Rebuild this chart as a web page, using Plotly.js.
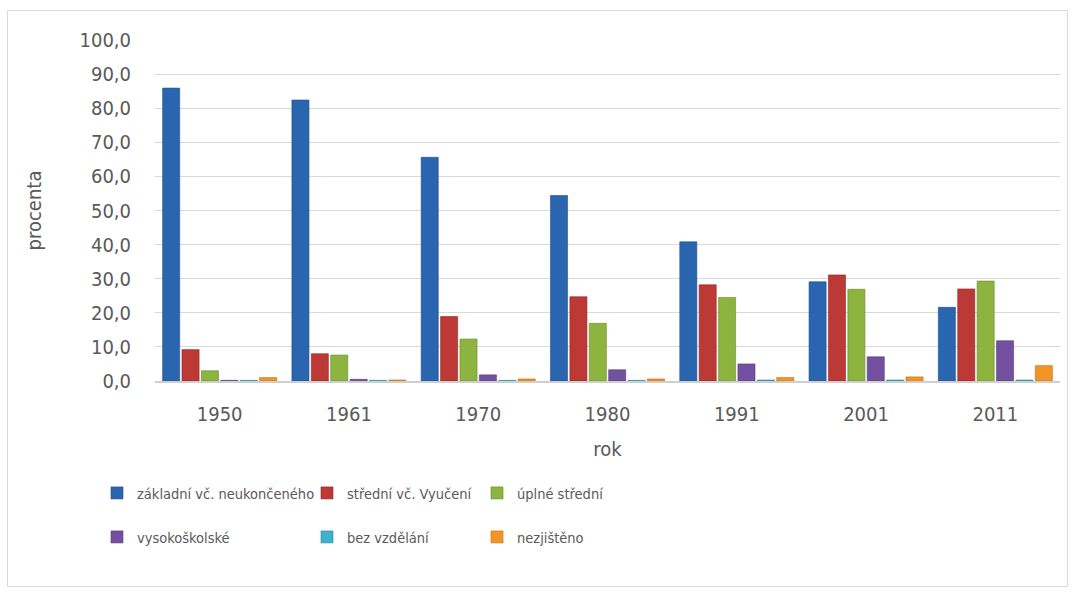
<!DOCTYPE html>
<html>
<head>
<meta charset="utf-8">
<script src="https://cdn.plot.ly/plotly-3.0.1.min.js"></script>
<style>html,body{margin:0;padding:0;background:#fff;}#chart{width:1075px;height:592px;}</style>
</head>
<body>
<div id="chart"></div>
<script>
const years = ["1950", "1961", "1970", "1980", "1991", "2001", "2011"];
const seriesNames = ["základní vč. neukončeného", "střední vč. Vyučení", "úplné střední", "vysokoškolské", "bez vzdělání", "nezjištěno"];
const zakladni = [85.9, 82.4, 65.6, 54.4, 40.8, 29.1, 21.6];
const stredni = [9.2, 8.0, 18.9, 24.7, 28.2, 31.1, 27.0];
const uplneStredni = [3.0, 7.6, 12.3, 16.9, 24.5, 26.9, 29.3];
const vysokoskolske = [0.2, 0.5, 1.8, 3.3, 5.0, 7.1, 11.8];
const bezVzdelani = [0.2, 0.2, 0.2, 0.2, 0.3, 0.3, 0.3];
const nezjisteno = [1.0, 0.3, 0.6, 0.6, 1.0, 1.2, 4.5];
const yTicks = [0, 10, 20, 30, 40, 50, 60, 70, 80, 90, 100];
const yTickLabels = ["0,0", "10,0", "20,0", "30,0", "40,0", "50,0", "60,0", "70,0", "80,0", "90,0", "100,0"];

const values = [zakladni, stredni, uplneStredni, vysokoskolske, bezVzdelani, nezjisteno];
const colors = ["#2A65B0", "#BD3935", "#8DB43F", "#7450A1", "#3DB2CB", "#F39426"];
const lineColors = ["#1F4E8A", "#8E2624", "#66872A", "#553A7A", "#2C8A9E", "#C06E12"];
const FONT = "'DejaVu Sans Condensed', 'DejaVu Sans', sans-serif";
const TXT = "#595959";
const legendIds = ["legend", "legend2", "legend3", "legend4", "legend5", "legend6"];

const traces = values.map((v, i) => ({
  type: "bar",
  name: seriesNames[i],
  x: years,
  y: v,
  marker: {color: colors[i], line: {color: lineColors[i], width: 0.6}},
  legend: legendIds[i],
  hoverinfo: "x+y+name"
}));

const W = 905, H = 341;
function px(x) { return (x - 155) / W; }
function py(y) { return (381 - y) / H; }

function mkLegend(textX, rowY) {
  return {
    orientation: "h",
    xanchor: "left",
    yanchor: "middle",
    x: px(textX - 40),
    y: py(rowY),
    font: {family: FONT, size: 14.5, color: TXT},
    bgcolor: "rgba(0,0,0,0)",
    itemclick: false,
    itemdoubleclick: false
  };
}

const colX = [137, 347, 517];
const rowY = [493, 537];

const layout = {
  width: 1075,
  height: 592,
  margin: {l: 155, r: 15, t: 40, b: 211},
  paper_bgcolor: "#ffffff",
  plot_bgcolor: "#ffffff",
  font: {family: FONT, size: 17, color: TXT},
  barmode: "group",
  bargap: 0.1,
  bargroupgap: 0.12,
  showlegend: true,
  xaxis: {
    type: "category",
    showgrid: false,
    showline: true,
    linecolor: "#CFCFCF",
    linewidth: 2,
    ticks: "",
    ticklabelstandoff: 14,
    tickfont: {family: FONT, size: 20, color: TXT},
    title: {text: "rok", font: {family: FONT, size: 20, color: TXT}, standoff: 17},
    automargin: false
  },
  yaxis: {
    range: [0, 100],
    tickvals: yTicks,
    ticktext: yTickLabels,
    showgrid: true,
    gridcolor: "#D9D9D9",
    gridwidth: 1,
    zeroline: false,
    showline: false,
    ticks: "",
    ticklabelstandoff: 23,
    tickfont: {family: FONT, size: 20, color: TXT},
    title: {text: "procenta", font: {family: FONT, size: 20, color: TXT}, standoff: 32},
    automargin: false,
    fixedrange: true
  },
  legend: mkLegend(colX[0], rowY[0]),
  legend2: mkLegend(colX[1], rowY[0]),
  legend3: mkLegend(colX[2], rowY[0]),
  legend4: mkLegend(colX[0], rowY[1]),
  legend5: mkLegend(colX[1], rowY[1]),
  legend6: mkLegend(colX[2], rowY[1]),
  shapes: [{
    type: "rect", xref: "paper", yref: "paper",
    x0: px(7.5), x1: px(1067.5), y0: py(586.5), y1: py(10.5),
    line: {color: "#D9D9D9", width: 1}, fillcolor: "rgba(0,0,0,0)", layer: "below"
  }]
};

Plotly.newPlot("chart", traces, layout, {staticPlot: true, displayModeBar: false});
</script>
</body>
</html>
